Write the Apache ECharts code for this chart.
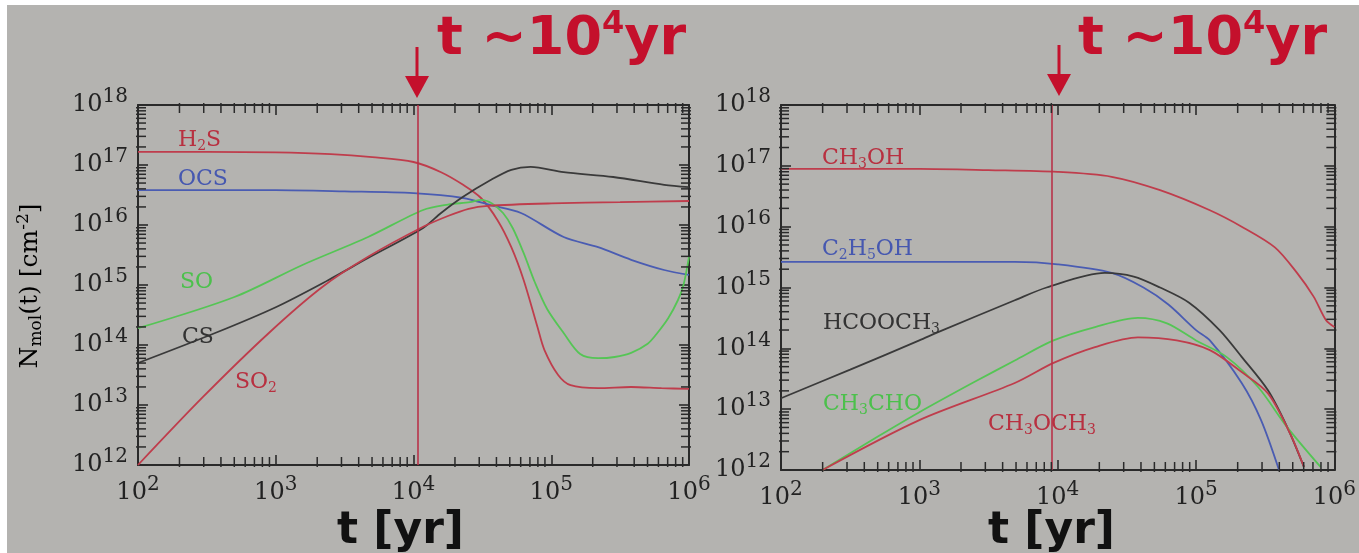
<!DOCTYPE html>
<html><head><meta charset="utf-8">
<script src="https://cdn.jsdelivr.net/npm/echarts@6/dist/echarts.min.js"></script>
<style>html,body{margin:0;padding:0;background:#fff}#c{width:1359px;height:553px}</style>
</head><body><div id="c"></div>
<script>
// ---- Data: log10(t [yr]) and log10(N [cm^-2]) ----
// Left panel (sulphur species)
const h2sT = [2.0, 2.5, 3.0, 3.4, 3.7, 4.0, 4.2, 4.36, 4.49, 4.61, 4.71, 4.8, 4.9, 4.95, 5.05, 5.14, 5.34, 5.58, 5.8, 6.0];
const h2sN = [17.22, 17.22, 17.21, 17.18, 17.13, 17.05, 16.88, 16.67, 16.45, 16.08, 15.63, 15.08, 14.3, 13.92, 13.5, 13.33, 13.28, 13.3, 13.28, 13.27];
const ocsT = [2.0, 3.0, 3.5, 4.0, 4.36, 4.56, 4.78, 5.09, 5.34, 5.58, 5.82, 6.0];
const ocsN = [16.58, 16.58, 16.56, 16.53, 16.45, 16.33, 16.2, 15.8, 15.63, 15.42, 15.25, 15.17];
const soT = [2.0, 2.7, 3.19, 3.67, 4.07, 4.25, 4.41, 4.49, 4.57, 4.65, 4.72, 4.8, 4.88, 4.97, 5.09, 5.21, 5.34, 5.46, 5.58, 5.7, 5.77, 5.85, 5.92, 5.96, 6.0];
const soN = [14.28, 14.8, 15.33, 15.8, 16.25, 16.34, 16.38, 16.42, 16.36, 16.2, 15.95, 15.53, 15.05, 14.6, 14.2, 13.85, 13.78, 13.8, 13.87, 14.02, 14.2, 14.45, 14.75, 15.0, 15.47];
const csT = [2.0, 2.56, 3.0, 3.38, 3.67, 4.07, 4.2, 4.36, 4.56, 4.71, 4.85, 5.09, 5.45, 5.82, 6.0];
const csN = [13.7, 14.2, 14.63, 15.08, 15.45, 15.95, 16.2, 16.47, 16.75, 16.92, 16.97, 16.88, 16.8, 16.67, 16.63];
const so2T = [2.0, 2.47, 2.95, 3.34, 3.67, 4.07, 4.25, 4.4, 4.54, 5.0, 5.5, 6.0];
const so2N = [12.0, 13.13, 14.2, 14.97, 15.47, 15.97, 16.15, 16.27, 16.32, 16.36, 16.38, 16.4];
// Right panel (complex organics)
const ch3ohT = [2.0, 3.0, 3.5, 4.0, 4.39, 4.74, 5.1, 5.33, 5.57, 5.73, 5.85, 5.94, 6.0];
const ch3ohN = [16.95, 16.95, 16.93, 16.9, 16.82, 16.6, 16.27, 16.0, 15.66, 15.24, 14.85, 14.46, 14.35];
const c2h5ohT = [2.0, 3.0, 3.69, 4.0, 4.39, 4.62, 4.8, 5.0, 5.1, 5.33, 5.47, 5.6];
const c2h5ohN = [15.42, 15.42, 15.42, 15.38, 15.24, 15.0, 14.72, 14.3, 14.13, 13.43, 12.82, 12.0];
const hcooch3T = [2.0, 2.5, 3.0, 3.14, 3.69, 3.92, 4.34, 4.55, 4.74, 4.95, 5.17, 5.33, 5.52, 5.66, 5.78];
const hcooch3N = [13.18, 13.65, 14.13, 14.27, 14.79, 15.0, 15.24, 15.18, 15.0, 14.75, 14.3, 13.86, 13.31, 12.7, 12.05];
const ch3choT = [2.3, 2.7, 3.0, 3.4, 3.69, 3.97, 4.27, 4.58, 4.79, 5.0, 5.22, 5.45, 5.66, 5.9];
const ch3choN = [12.0, 12.55, 12.95, 13.45, 13.8, 14.13, 14.35, 14.5, 14.41, 14.13, 13.86, 13.36, 12.7, 12.05];
const ch3och3T = [2.3, 3.0, 3.69, 3.97, 4.27, 4.58, 4.86, 5.1, 5.33, 5.52, 5.68, 5.78];
const ch3och3N = [12.0, 12.82, 13.43, 13.76, 14.02, 14.18, 14.13, 13.97, 13.61, 13.26, 12.6, 12.05];
// Marker time (vertical line) in each panel, log10(t)
const markLeft = 4.03;
const markRight = 3.96;
// Axis ranges (exponents) and log minor-tick multipliers
const xRange = [2, 6];
const yRange = [12, 18];
const minorMult = [2, 3, 4, 5, 6, 7, 8, 9];

const pts = (T, N) => T.map((t, i) => [Math.pow(10, t), Math.pow(10, N[i])]);
const minorVals = (r) => {
  const out = [];
  for (let k = r[0]; k < r[1]; k++) minorMult.forEach(m => out.push(m * Math.pow(10, k)));
  return out;
};

const RED = '#bf3d4c', BLUE = '#4a5cb2', GREEN = '#55c555', BLACK = '#3a3a3a';
const AX = '#2a2a2a';
const serif = 'DejaVu Serif';

const expLabel = v => '{b|10}{e|' + Math.round(Math.log10(v)) + '}';
const richTick = {
  b: {fontFamily: serif, fontSize: 24, color: '#222', lineHeight: 36, verticalAlign: 'middle'},
  e: {fontFamily: serif, fontSize: 20, color: '#222', lineHeight: 16, verticalAlign: 'top'}
};

function xAx(grid, pos, showLabel) {
  return {
    type: 'log', logBase: 10, gridIndex: grid, position: pos,
    min: Math.pow(10, xRange[0]), max: Math.pow(10, xRange[1]), splitNumber: 4,
    axisLine: {show: true, lineStyle: {color: AX, width: 2}},
    axisTick: {show: true, inside: true, length: 10, lineStyle: {color: AX, width: 1.6}},
    splitLine: {show: false},
    axisLabel: {show: showLabel, margin: 10, formatter: expLabel, rich: richTick, showMinLabel: true, showMaxLabel: true},
  };
}
function yAx(grid, pos, showLabel) {
  return {
    type: 'log', logBase: 10, gridIndex: grid, position: pos,
    min: Math.pow(10, yRange[0]), max: Math.pow(10, yRange[1]), splitNumber: 6,
    axisLine: {show: true, lineStyle: {color: AX, width: 2}},
    axisTick: {show: true, inside: true, length: 10, lineStyle: {color: AX, width: 1.6}},
    splitLine: {show: false},
    axisLabel: {show: showLabel, margin: 10, formatter: expLabel, rich: richTick, showMinLabel: true, showMaxLabel: true},
  };
}

function line(name, T, N, color, xi, yi, extra) {
  return Object.assign({
    name, type: 'line', xAxisIndex: xi, yAxisIndex: yi, data: pts(T, N),
    showSymbol: false, smooth: 0.3, clip: true,
    lineStyle: {color, width: 1.8}, itemStyle: {color}, z: 3
  }, extra || {});
}
const mark = (v) => ({
  silent: true, symbol: 'none', label: {show: false},
  lineStyle: {color: '#b8334a', width: 1.6, type: 'solid'},
  data: [{xAxis: Math.pow(10, v)}]
});

// log-spaced minor ticks, placed through the axes' own scales as thin symbols (pointing inward)
function minorTicks(xi, yi) {
  const xm = minorVals(xRange), ym = minorVals(yRange);
  const x0 = Math.pow(10, xRange[0]), x1 = Math.pow(10, xRange[1]);
  const y0 = Math.pow(10, yRange[0]), y1 = Math.pow(10, yRange[1]);
  const mk = (data, size, off) => ({
    type: 'scatter', xAxisIndex: xi, yAxisIndex: yi, z: 6, clip: false, silent: true,
    symbol: 'rect', symbolSize: size, symbolOffset: off, data,
    itemStyle: {color: AX, opacity: 1}
  });
  return [
    mk(xm.map(v => [v, y0]), [1.5, 10], [0, -3]),
    mk(xm.map(v => [v, y1]), [1.5, 10], [0, 3]),
    mk(ym.map(v => [x0, v]), [10, 1.5], [3, 0]),
    mk(ym.map(v => [x1, v]), [10, 1.5], [-3, 0])
  ];
}

const lab = (x, y, txt, color) => ({
  type: 'text', x, y, z: 10,
  style: {
    text: txt, fill: color, font: '22px "DejaVu Serif"', textVerticalAlign: 'middle',
    rich: {
      n: {fontFamily: serif, fontSize: 22, color, lineHeight: 26, verticalAlign: 'middle'},
      s: {fontFamily: serif, fontSize: 14, color, lineHeight: 12, verticalAlign: 'bottom'}
    }
  }
});
const nm = (parts) => parts.map(p => typeof p === 'number' ? '{s|' + p + '}' : '{n|' + p + '}').join('');

const titleRich = {
  a: {fontFamily: 'DejaVu Sans', fontWeight: 'bold', fontSize: 54, color: '#c4102c', lineHeight: 62, verticalAlign: 'middle'},
  e: {fontFamily: 'DejaVu Sans', fontWeight: 'bold', fontSize: 32, color: '#c4102c', lineHeight: 34, verticalAlign: 'top'}
};
const title = (x) => ({
  type: 'text', x, y: 40, z: 10,
  style: {text: '{a|t ~10}{e|4}{a|yr}', textVerticalAlign: 'middle', rich: titleRich, fill: '#c4102c'}
});
const arrow = (x, y0) => ({
  type: 'group', z: 10, children: [
    {type: 'rect', shape: {x: x - 1.5, y: y0, width: 3, height: 32}, style: {fill: '#c4102c'}},
    {type: 'polygon', shape: {points: [[x - 12, y0 + 29], [x + 12, y0 + 29], [x, y0 + 51]]}, style: {fill: '#c4102c'}}
  ]
});
const tyr = (x) => ({
  type: 'text', x, y: 532, z: 10,
  style: {text: 't [yr]', font: 'bold 44px "DejaVu Sans"', fill: '#111', textVerticalAlign: 'middle'}
});

const chart = echarts.init(document.getElementById('c'), null, {renderer: 'canvas'});
chart.setOption({
  animation: false,
  backgroundColor: '#b4b3b0',
  grid: [
    {left: 138, top: 105, width: 551, height: 360},
    {left: 781, top: 105, width: 567, height: 365}
  ],
  xAxis: [xAx(0, 'bottom', true), xAx(0, 'top', false), xAx(1, 'bottom', true), xAx(1, 'top', false)],
  yAxis: [yAx(0, 'left', true), yAx(0, 'right', false), yAx(1, 'left', true), yAx(1, 'right', false)],
  series: [
    line('H2S', h2sT, h2sN, RED, 0, 0, {markLine: mark(markLeft)}),
    line('OCS', ocsT, ocsN, BLUE, 0, 0),
    line('SO', soT, soN, GREEN, 0, 0),
    line('CS', csT, csN, BLACK, 0, 0),
    line('SO2', so2T, so2N, RED, 0, 0),
    line('CH3OH', ch3ohT, ch3ohN, RED, 2, 2, {markLine: mark(markRight)}),
    line('C2H5OH', c2h5ohT, c2h5ohN, BLUE, 2, 2),
    line('HCOOCH3', hcooch3T, hcooch3N, BLACK, 2, 2),
    line('CH3CHO', ch3choT, ch3choN, GREEN, 2, 2),
    line('CH3OCH3', ch3och3T, ch3och3N, RED, 2, 2)
  ].concat(minorTicks(0, 0), minorTicks(2, 2)),
  graphic: [
    {type: 'rect', z: 20, shape: {x: 0, y: 0, width: 1359, height: 5}, style: {fill: '#ffffff'}},
    {type: 'rect', z: 20, shape: {x: 0, y: 0, width: 7, height: 553}, style: {fill: '#ffffff'}},
    title(437), title(1078),
    arrow(417, 47), arrow(1059, 45),
    tyr(337), tyr(988),
    {
      type: 'text', x: 30, y: 286, rotation: Math.PI / 2, z: 10,
      style: {
        text: '{n|N}{s|mol}{n|(t) [cm}{p|-2}{n|]}', textAlign: 'center', textVerticalAlign: 'middle',
        rich: {
          n: {fontFamily: serif, fontSize: 25, color: '#222', lineHeight: 30, verticalAlign: 'middle'},
          s: {fontFamily: serif, fontSize: 17, color: '#222', lineHeight: 15, verticalAlign: 'bottom'},
          p: {fontFamily: serif, fontSize: 17, color: '#222', lineHeight: 15, verticalAlign: 'top'}
        }
      }
    },
    lab(178, 140, nm(['H', 2, 'S']), '#b83040'),
    lab(178, 179, nm(['OCS']), '#4658b0'),
    lab(180, 282, nm(['SO']), '#4cc04c'),
    lab(182, 337, nm(['CS']), '#333'),
    lab(235, 382, nm(['SO', 2]), '#b83040'),
    lab(822, 158, nm(['CH', 3, 'OH']), '#b83040'),
    lab(822, 249, nm(['C', 2, 'H', 5, 'OH']), '#4658b0'),
    lab(823, 323, nm(['HCOOCH', 3]), '#333'),
    lab(823, 404, nm(['CH', 3, 'CHO']), '#4cc04c'),
    lab(988, 424, nm(['CH', 3, 'OCH', 3]), '#b83040')
  ]
});
</script></body></html>
